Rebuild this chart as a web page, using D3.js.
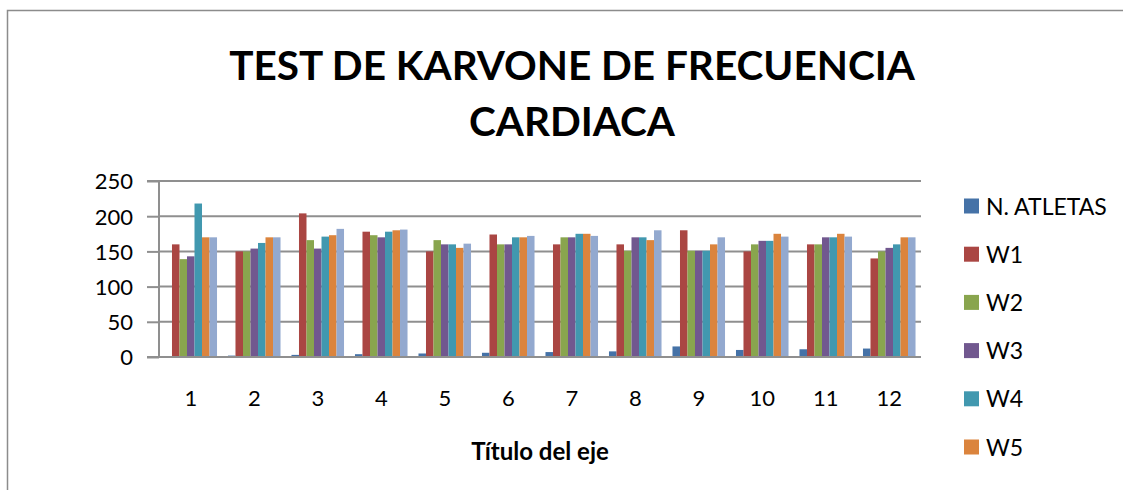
<!DOCTYPE html>
<html>
<head>
<meta charset="utf-8">
<script src="https://cdn.jsdelivr.net/npm/d3@7"></script>
<style>
  html, body { margin: 0; padding: 0; background: #fff; overflow: hidden; }
  svg { display: block; }
  text { font-family: Lato, "Open Sans", sans-serif; fill: #000; }
</style>
</head>
<body>
<svg id="chart" width="1123" height="490"></svg>
<script>
// ---- Data ----
const categories = ["1","2","3","4","5","6","7","8","9","10","11","12"];
const seriesNames = ["N. ATLETAS","W1","W2","W3","W4","W5","W6"];
const nAtletas = [1, 2, 3, 4, 5, 6, 7, 8, 15, 10, 11, 12];
const w1 = [160, 150, 204, 178, 150, 174, 160, 160, 180, 150, 160, 140];
const w2 = [139, 150, 166, 173, 166, 160, 170, 151, 151, 160, 160, 150];
const w3 = [143, 154, 154, 170, 160, 160, 170, 170, 151, 165, 170, 155];
const w4 = [218, 162, 171, 178, 160, 170, 175, 170, 151, 165, 170, 160];
const w5 = [170, 170, 173, 180, 155, 170, 175, 166, 160, 175, 175, 170];
const w6 = [170, 170, 182, 181, 161, 172, 172, 180, 170, 171, 171, 170];
const yTicks = [0, 50, 100, 150, 200, 250];
const legendShown = ["N. ATLETAS","W1","W2","W3","W4","W5"];
const colors = ["#4572A7","#AA4643","#89A54E","#71588F","#4198AF","#DB843D","#93A9CF"];
const titleLines = ["TEST DE KARVONE DE FRECUENCIA", "CARDIACA"];
const xAxisTitle = "Título del eje";

const seriesValues = [nAtletas, w1, w2, w3, w4, w5, w6];

// ---- Layout ----
const svg = d3.select("#chart");
const plot = { left: 159, right: 921, top: 181, bottom: 357 };
const gridColor = "#8f8f8f";

// outer border (only left and top edges visible in the crop)
svg.append("path")
  .attr("d", "M7.5,490 L7.5,10.5 L1123,10.5")
  .attr("fill", "none").attr("stroke", "#8c8c8c").attr("stroke-width", 1.5);

// title
const title = svg.append("g");
titleLines.forEach((t, i) => {
  title.append("text")
    .attr("x", 572).attr("y", 80 + i * 56)
    .attr("text-anchor", "middle")
    .style("font-weight", "bold").style("font-size", "40.5px")
    .text(t);
});

const x0 = d3.scaleBand().domain(categories).range([plot.left, plot.right]).padding(0);
const x1 = d3.scaleBand().domain(seriesNames).range([0, x0.bandwidth()])
  .paddingInner(0).paddingOuter(0.73);
const y = d3.scaleLinear().domain([0, 250]).range([plot.bottom, plot.top]);

// gridlines
svg.append("g").selectAll("line").data(yTicks.filter(d => d > 0)).join("line")
  .attr("x1", plot.left).attr("x2", plot.right)
  .attr("y1", d => y(d)).attr("y2", d => y(d))
  .attr("stroke", gridColor).attr("stroke-width", 2);

// bars
const gBars = svg.append("g");
seriesNames.forEach((s, si) => {
  gBars.append("g").selectAll("rect")
    .data(categories.map((c, ci) => ({ c, v: seriesValues[si][ci] })))
    .join("rect")
    .attr("x", d => x0(d.c) + x1(s))
    .attr("width", x1.bandwidth())
    .attr("y", d => y(d.v))
    .attr("height", d => y(0) - y(d.v))
    .attr("fill", colors[si]);
});

// y axis
const yAxis = d3.axisLeft(y).tickValues(yTicks).tickSize(12).tickPadding(14);
const gy = svg.append("g").attr("transform", `translate(${plot.left},0)`).call(yAxis);
gy.select(".domain").attr("stroke", gridColor).attr("stroke-width", 2)
  .attr("d", `M-12,${plot.top}H0V${plot.bottom}H-12`);
gy.selectAll(".tick line").attr("stroke", gridColor).attr("stroke-width", 2);
gy.selectAll(".tick text").style("font-family", "Lato, sans-serif")
  .style("font-size", "22px").attr("fill", "#000").attr("dy", "0.36em");

// x axis
const xAxis = d3.axisBottom(x0).tickSize(0).tickPadding(33);
const gx = svg.append("g").attr("transform", `translate(0,${plot.bottom})`).call(xAxis);
gx.select(".domain").attr("stroke", gridColor).attr("stroke-width", 2)
  .attr("d", `M${plot.left - 8},0H${plot.right}`);
gx.selectAll(".tick text").style("font-family", "Lato, sans-serif")
  .style("font-size", "22px").attr("fill", "#000");

// x axis title
svg.append("text").attr("x", 540).attr("y", 460)
  .attr("text-anchor", "middle")
  .style("font-weight", "bold").style("font-size", "24px")
  .text(xAxisTitle);

// legend
const legend = svg.append("g");
legendShown.forEach((name, i) => {
  const cy = 206 + i * 48.2;
  legend.append("rect").attr("x", 964).attr("y", cy - 7.5)
    .attr("width", 15).attr("height", 15)
    .attr("fill", colors[seriesNames.indexOf(name)]);
  legend.append("text").attr("x", 986).attr("y", cy + 8.5)
    .style("font-size", "23px").text(name);
});
</script>
</body>
</html>
